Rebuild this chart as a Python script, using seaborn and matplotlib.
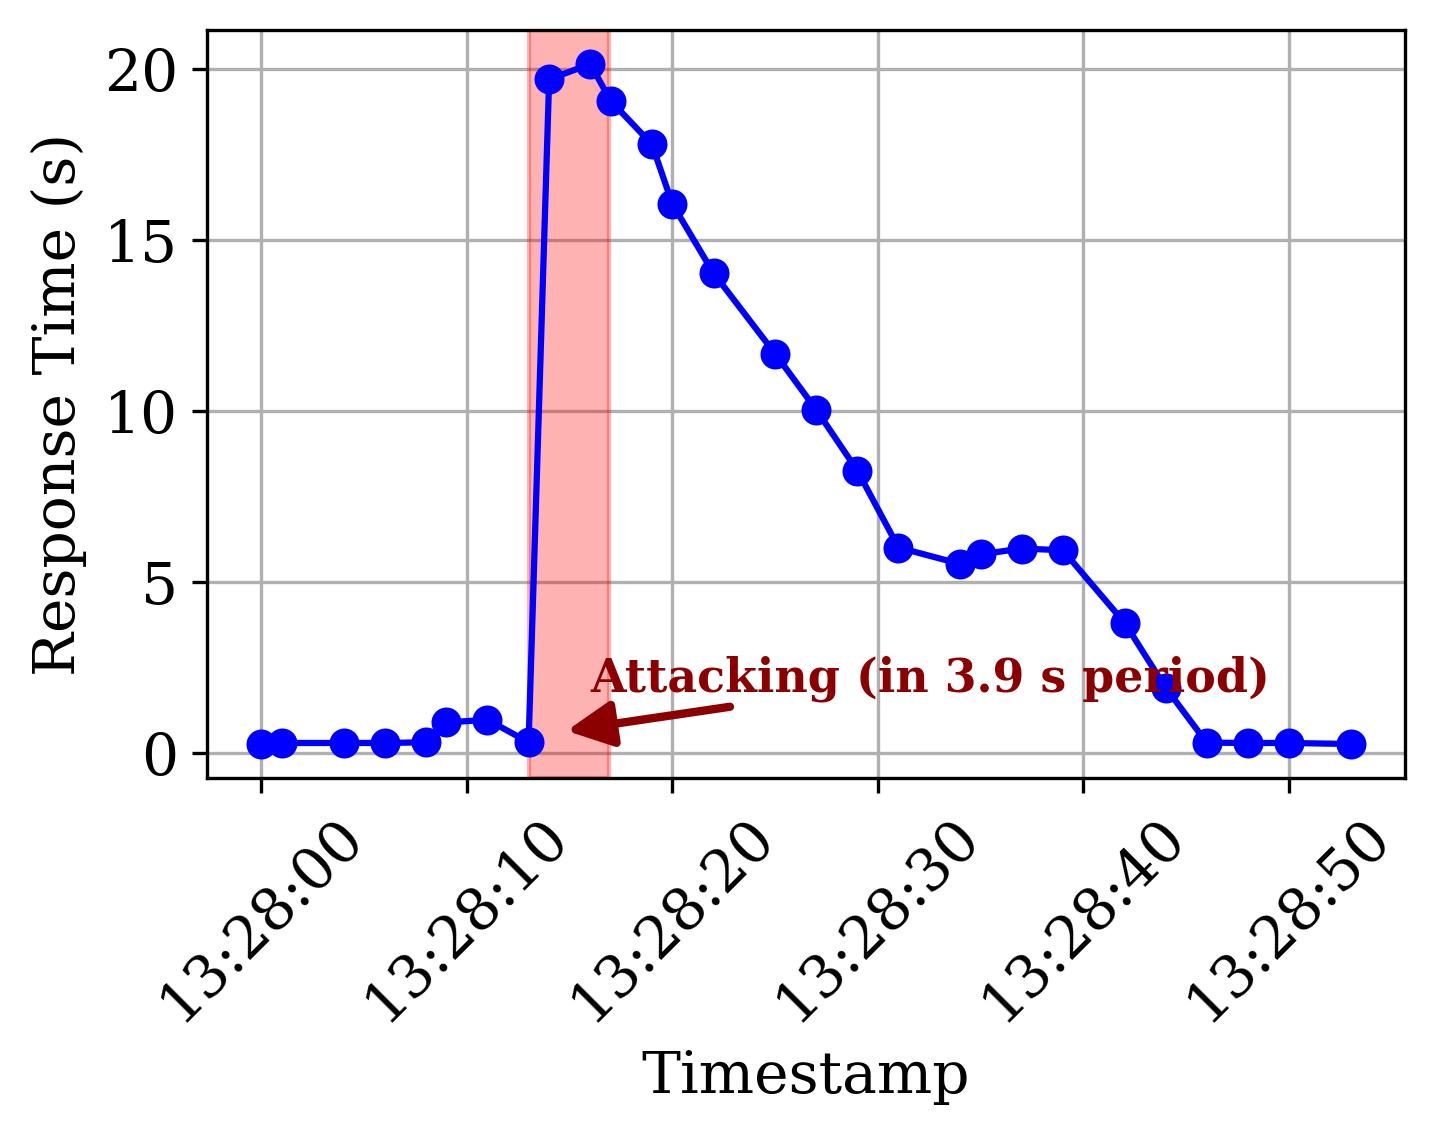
import matplotlib
matplotlib.use("Agg")
import matplotlib.pyplot as plt
import matplotlib.dates as mdates
import seaborn as sns
import pandas as pd
import numpy as np

# offsets in seconds after 13:28:00
seconds = [0, 1, 4, 6, 8, 9, 11, 13, 14, 16, 17, 19, 20, 22, 25, 27, 29, 31,
           34, 35, 37, 39, 42, 44, 46, 48, 50, 53]
response = [0.25, 0.28, 0.28, 0.28, 0.30, 0.88, 0.96, 0.30, 19.70, 20.15, 19.07,
            17.80, 16.05, 14.03, 11.67, 10.03, 8.25, 6.00, 5.52, 5.80, 5.97,
            5.92, 3.80, 1.90, 0.29, 0.28, 0.28, 0.25]
attack_start = 13.0
attack_len = 3.9
annot_text = "Attacking (in 3.9 s period)"

base = pd.Timestamp("2024-01-01 13:28:00")
df = pd.DataFrame({
    "Timestamp": [base + pd.Timedelta(seconds=s) for s in seconds],
    "Response Time (s)": response,
})


def t(s):
    return mdates.date2num(base + pd.Timedelta(seconds=s))


plt.rcParams["font.family"] = ["DejaVu Serif"]

fig, ax = plt.subplots(figsize=(1435 / 300, 1137 / 300), dpi=300)
fig.subplots_adjust(left=207 / 1435, right=1405 / 1435, top=1 - 30 / 1137, bottom=1 - 778 / 1137)

sns.lineplot(data=df, x="Timestamp", y="Response Time (s)", ax=ax, color="blue",
             marker="o", markersize=7.2, markeredgewidth=0, linewidth=1.5)

ax.axvspan(t(attack_start), t(attack_start + attack_len), color="red", alpha=0.3)

# arrow
ax.annotate("", xy=(t(14.45), 0.6), xytext=(t(22.8), 1.34),
            arrowprops=dict(arrowstyle="-|>", color="darkred", lw=2.0,
                            mutation_scale=23, shrinkA=0, shrinkB=2))
# label
ax.text(t(16.0), 1.8, annot_text, color="darkred", fontsize=11, fontweight="bold")

ax.xaxis.set_major_locator(mdates.SecondLocator(bysecond=range(0, 60, 10)))
ax.xaxis.set_major_formatter(mdates.DateFormatter("%H:%M:%S"))
ax.tick_params(axis="both", labelsize=14)
plt.setp(ax.get_xticklabels(), rotation=45)
ax.set_xlabel("Timestamp", fontsize=14)
ax.set_ylabel("Response Time (s)", fontsize=14)
ax.set_yticks([0, 5, 10, 15, 20])
ax.grid(True)
ax.set_axisbelow(True)

fig.savefig("out.png", dpi=300)
